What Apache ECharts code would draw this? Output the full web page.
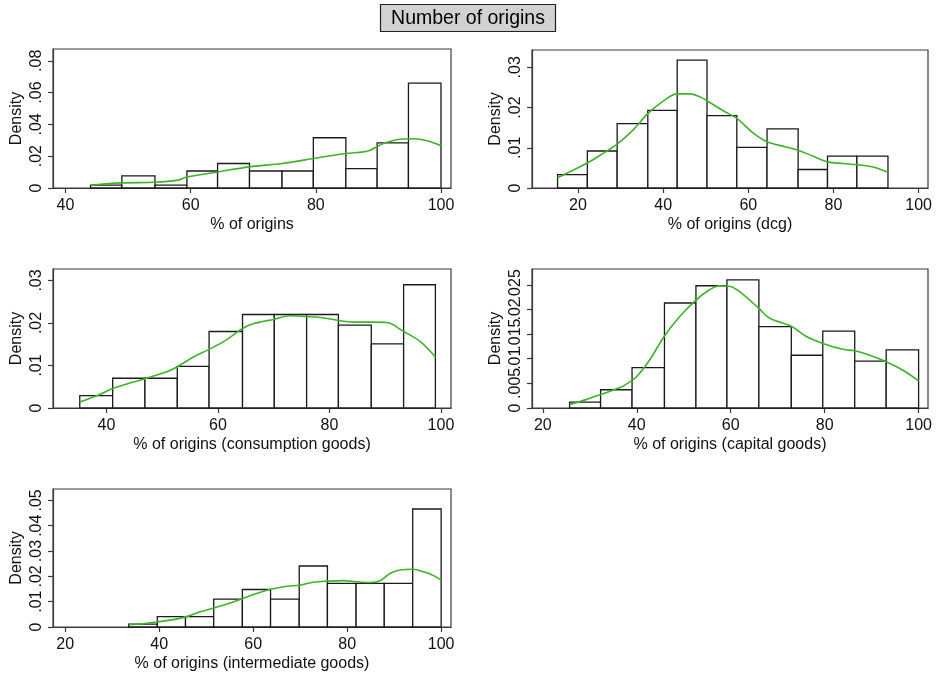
<!DOCTYPE html>
<html>
<head>
<meta charset="utf-8">
<title>Number of origins</title>
<script src="https://cdn.jsdelivr.net/npm/echarts@6/dist/echarts.min.js"></script>
<style>
  html, body { margin: 0; padding: 0; background: #fff; }
  #chart { width: 936px; height: 682px; }
</style>
</head>
<body>
<div id="chart"></div>
<script>
// ---- histogram bin edges and bar densities, kernel density curves ----
// all origins
const edgesAll = [44.0, 49.0, 54.3, 59.4, 64.3, 69.4, 74.6, 79.6, 84.8, 89.8, 94.8, 100];
const densAll  = [0.0018, 0.0076, 0.0018, 0.0107, 0.0154, 0.0107, 0.0107, 0.0316, 0.0122, 0.0284, 0.0659];
const kdeXAll  = [44.0, 49.0, 54.3, 57.8, 59.4, 64.3, 69.4, 74.6, 79.6, 84.8, 87.6, 88.7, 90.8, 93.5, 95.6, 97.8, 100];
const kdeYAll  = [0.0017, 0.0032, 0.0036, 0.0048, 0.0069, 0.0101, 0.0133, 0.0154, 0.0185, 0.0217, 0.0227, 0.0238, 0.0280, 0.0307, 0.0310, 0.0297, 0.0265];

// dcg
const edgesDcg = [15.2, 22.2, 29.2, 36.4, 43.3, 50.3, 57.3, 64.4, 71.7, 78.6, 85.5, 92.8];
const densDcg  = [0.0033, 0.0092, 0.0160, 0.0193, 0.0318, 0.0180, 0.0101, 0.0147, 0.0046, 0.0079, 0.0079];
const kdeXDcg  = [15.2, 18.0, 22.2, 25.9, 29.2, 32.9, 36.4, 40.0, 43.3, 46.2, 48.6, 50.3, 54.1, 57.3, 61.1, 64.4, 68.9, 71.7, 75.2, 78.6, 82.2, 85.5, 89.3, 92.8];
const kdeYDcg  = [0.0026, 0.0040, 0.0062, 0.0086, 0.0109, 0.0144, 0.0185, 0.0216, 0.0234, 0.0234, 0.0227, 0.0217, 0.0192, 0.0173, 0.0137, 0.0115, 0.0102, 0.0094, 0.0079, 0.0065, 0.0061, 0.0058, 0.0052, 0.0039];

// consumption goods
const edgesCons = [35.2, 41.1, 46.9, 52.7, 58.4, 64.4, 70.1, 75.9, 81.6, 87.5, 93.3, 99.0];
const densCons  = [0.0029, 0.0070, 0.0070, 0.0098, 0.0180, 0.0220, 0.0220, 0.0220, 0.0195, 0.0151, 0.0290];
const kdeXCons  = [35.2, 38.8, 41.1, 44.8, 46.9, 50.8, 52.7, 55.6, 58.4, 61.6, 64.4, 66.3, 70.1, 72.9, 75.9, 78.3, 81.6, 84.3, 87.5, 90.3, 93.3, 96.3, 99.0];
const kdeYCons  = [0.0014, 0.0032, 0.0046, 0.0061, 0.0069, 0.0085, 0.0097, 0.0120, 0.0138, 0.0161, 0.0187, 0.0198, 0.0209, 0.0217, 0.0215, 0.0213, 0.0206, 0.0202, 0.0202, 0.0201, 0.0180, 0.0156, 0.0120];

// capital goods
const edgesCap = [25.7, 32.3, 39.0, 45.9, 52.6, 59.2, 66.0, 72.9, 79.6, 86.4, 93.1, 100];
const densCap  = [0.0012, 0.0037, 0.0082, 0.0213, 0.0248, 0.0260, 0.0165, 0.0107, 0.0156, 0.0095, 0.0118];
const kdeXCap  = [25.7, 29.2, 32.8, 36.3, 37.7, 39.9, 42.7, 45.9, 49.1, 52.6, 55.5, 57.6, 59.7, 61.9, 66.0, 68.3, 72.9, 76.1, 79.6, 83.9, 86.4, 89.6, 93.1, 96.6, 100];
const kdeYCap  = [0.0007, 0.0017, 0.0029, 0.0041, 0.0048, 0.0063, 0.0097, 0.0146, 0.0185, 0.0219, 0.0240, 0.0248, 0.0247, 0.0236, 0.0202, 0.0182, 0.0166, 0.0145, 0.0131, 0.0119, 0.0116, 0.0107, 0.0094, 0.0077, 0.0055];

// intermediate goods
const edgesInt = [33.5, 39.6, 45.6, 51.6, 57.7, 63.7, 69.8, 75.8, 81.9, 87.9, 93.95, 100];
const densInt  = [0.0011, 0.0041, 0.0041, 0.0110, 0.0148, 0.0110, 0.0241, 0.0172, 0.0172, 0.0172, 0.0466];
const kdeXInt  = [33.5, 36.6, 39.6, 43.0, 45.6, 48.7, 51.6, 55.1, 57.7, 60.7, 63.7, 67.2, 69.8, 72.8, 75.8, 79.2, 81.9, 84.9, 87.0, 89.2, 91.3, 93.95, 96.3, 98.5, 100];
const kdeYInt  = [0.0009, 0.0013, 0.0020, 0.0029, 0.0040, 0.0060, 0.0075, 0.0095, 0.0112, 0.0132, 0.0149, 0.0161, 0.0165, 0.0177, 0.0181, 0.0183, 0.0179, 0.0176, 0.0183, 0.0212, 0.0225, 0.0228, 0.0218, 0.0202, 0.0185];

// ---- axis ticks and titles ----
const xTicksAll  = [40, 60, 80, 100];
const xTicksDcg  = [20, 40, 60, 80, 100];
const xTicksCons = [40, 60, 80, 100];
const xTicksCap  = [20, 40, 60, 80, 100];
const xTicksInt  = [20, 40, 60, 80, 100];

const yTicksAll  = [0, 0.02, 0.04, 0.06, 0.08];
const yTicksDcg  = [0, 0.01, 0.02, 0.03];
const yTicksCons = [0, 0.01, 0.02, 0.03];
const yTicksCap  = [0, 0.005, 0.01, 0.015, 0.02, 0.025];
const yTicksInt  = [0, 0.01, 0.02, 0.03, 0.04, 0.05];

const xTitles = [
  '% of origins',
  '% of origins (dcg)',
  '% of origins (consumption goods)',
  '% of origins (capital goods)',
  '% of origins (intermediate goods)'
];
const yTitle = 'Density';
const mainTitle = 'Number of origins';

// ---- panel layout: plot boxes in pixels and axis extents ----
const layout = [
  { left: 53,  top: 49,  width: 398, height: 139, xMin: 38,   xMax: 101.6, yMax: 0.0874 },
  { left: 532, top: 50,  width: 396, height: 138, xMin: 9.2,  xMax: 102.2, yMax: 0.0343 },
  { left: 53,  top: 269, width: 398, height: 139, xMin: 30.4, xMax: 101.8, yMax: 0.0327 },
  { left: 532, top: 269, width: 396, height: 139, xMin: 17.7, xMax: 102.0, yMax: 0.0282 },
  { left: 53,  top: 489, width: 398, height: 138, xMin: 17.4, xMax: 102.1, yMax: 0.0545 }
];

const panels = [
  { edges: edgesAll,  dens: densAll,  kx: kdeXAll,  ky: kdeYAll,  xt: xTicksAll,  yt: yTicksAll },
  { edges: edgesDcg,  dens: densDcg,  kx: kdeXDcg,  ky: kdeYDcg,  xt: xTicksDcg,  yt: yTicksDcg },
  { edges: edgesCons, dens: densCons, kx: kdeXCons, ky: kdeYCons, xt: xTicksCons, yt: yTicksCons },
  { edges: edgesCap,  dens: densCap,  kx: kdeXCap,  ky: kdeYCap,  xt: xTicksCap,  yt: yTicksCap },
  { edges: edgesInt,  dens: densInt,  kx: kdeXInt,  ky: kdeYInt,  xt: xTicksInt,  yt: yTicksInt }
];

const FONT = '"Liberation Sans", Arial, Helvetica, sans-serif';
const INK = '#111';
const LINE_GREEN = '#3db427';
const FRAME = '#3a3a3a';

// Stata-style density labels: ".02" rather than "0.02"
function densityLabel(v) {
  if (v === 0) return '0';
  return String(+v.toFixed(3)).replace(/^0\./, '.');
}

// histogram bar drawn between two bin edges
function renderBin(params, api) {
  const x0 = api.value(0), x1 = api.value(1), h = api.value(2);
  const topLeft = api.coord([x0, h]);
  const bottomRight = api.coord([x1, 0]);
  return {
    type: 'rect',
    shape: {
      x: topLeft[0],
      y: topLeft[1],
      width: bottomRight[0] - topLeft[0],
      height: bottomRight[1] - topLeft[1]
    },
    style: { fill: '#ffffff', stroke: '#1a1a1a', lineWidth: 1.3 }
  };
}

const labelStyle = {
  rotate: 90, margin: 8, fontFamily: FONT, fontSize: 16, color: INK,
  showMinLabel: true, showMaxLabel: true, hideOverlap: false,
  formatter: densityLabel
};

const grid = [], xAxis = [], yAxis = [], series = [];

panels.forEach((p, i) => {
  const L = layout[i];
  grid.push({
    left: L.left, top: L.top, width: L.width, height: L.height,
    show: true, borderColor: FRAME, borderWidth: 1.2, backgroundColor: '#fff'
  });
  xAxis.push({
    type: 'value', gridIndex: i, min: L.xMin, max: L.xMax,
    name: xTitles[i], nameLocation: 'middle', nameGap: 29,
    nameTextStyle: { fontFamily: FONT, fontSize: 16, color: INK },
    axisLine: { show: true, onZero: false, lineStyle: { color: FRAME, width: 1.2 } },
    axisTick: { show: true, length: 5, customValues: p.xt, lineStyle: { color: FRAME, width: 1.2 } },
    axisLabel: {
      customValues: p.xt, margin: 10, fontFamily: FONT, fontSize: 16, color: INK,
      showMinLabel: true, showMaxLabel: true, hideOverlap: false
    },
    splitLine: { show: false }
  });

  // tight density labels can touch each other, so alternate ones sit on a
  // second, line-less axis sharing the same scale
  const evenTicks = p.yt.filter((v, k) => k % 2 === 0);
  const oddTicks = p.yt.filter((v, k) => k % 2 === 1);
  const primaryIndex = yAxis.length;
  yAxis.push({
    type: 'value', gridIndex: i, min: 0, max: L.yMax, position: 'left',
    name: yTitle, nameLocation: 'middle', nameGap: 28,
    nameTextStyle: { fontFamily: FONT, fontSize: 16, color: INK },
    axisLine: { show: true, onZero: false, lineStyle: { color: FRAME, width: 1.2 } },
    axisTick: { show: true, length: 5, customValues: p.yt, lineStyle: { color: FRAME, width: 1.2 } },
    axisLabel: Object.assign({ customValues: evenTicks }, labelStyle),
    splitLine: { show: false }
  });
  yAxis.push({
    type: 'value', gridIndex: i, min: 0, max: L.yMax, position: 'left', offset: 0,
    axisLine: { show: false },
    axisTick: { show: false },
    axisLabel: Object.assign({ customValues: oddTicks }, labelStyle),
    splitLine: { show: false }
  });

  series.push({
    type: 'custom', xAxisIndex: i, yAxisIndex: primaryIndex,
    renderItem: renderBin,
    encode: { x: [0, 1], y: 2 },
    data: p.dens.map((d, k) => [p.edges[k], p.edges[k + 1], d]),
    silent: true, z: 2
  });
  series.push({
    type: 'line', xAxisIndex: i, yAxisIndex: primaryIndex,
    data: p.kx.map((x, k) => [x, p.ky[k]]),
    smooth: 0.35, showSymbol: false, symbol: 'none',
    lineStyle: { color: LINE_GREEN, width: 1.6 },
    silent: true, z: 3
  });
});

const chart = echarts.init(document.getElementById('chart'), null, { renderer: 'canvas' });
chart.setOption({
  animation: false,
  backgroundColor: '#ffffff',
  title: {
    text: mainTitle, left: 'center', top: 4,
    padding: [4, 11, 3, 11],
    backgroundColor: '#d2d2d2', borderColor: '#222', borderWidth: 1.2,
    textStyle: { fontFamily: FONT, fontSize: 19.5, fontWeight: 'normal', color: '#000', lineHeight: 21 }
  },
  grid, xAxis, yAxis, series
});
</script>
</body>
</html>
